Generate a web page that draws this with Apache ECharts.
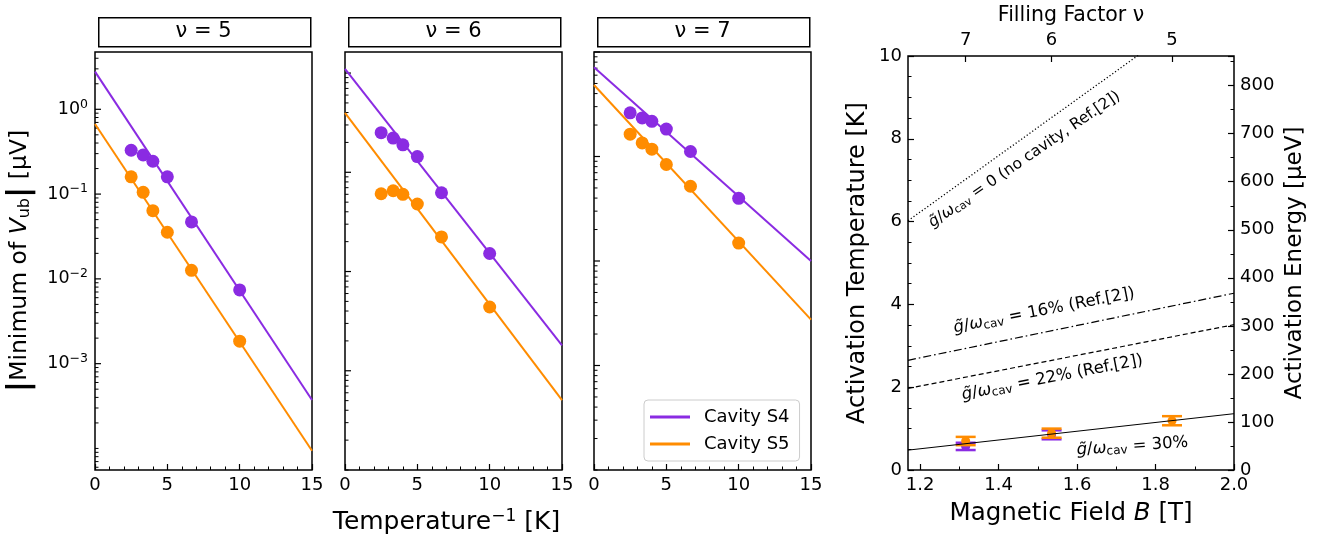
<!DOCTYPE html>
<html>
<head>
<meta charset="utf-8">
<title>Activation energy</title>
<script src="https://cdn.jsdelivr.net/npm/echarts@6/dist/echarts.min.js"></script>
<style>
  html, body { margin: 0; padding: 0; background: #fff; }
  #chart { width: 1336px; height: 542px; }
</style>
</head>
<body>
<div id="chart"></div>
<script>
// inverse temperature of the measurements [1/K]
var invTemp = [2.5, 3.33, 4, 5, 6.67, 10];
var panelTitles = ['ν = 5', 'ν = 6', 'ν = 7'];

// |minimum of V_ub| [µV]
var s4Nu5 = [0.329, 0.289, 0.244, 0.160, 0.0469, 0.0074];
var s5Nu5 = [0.160, 0.105, 0.0637, 0.0355, 0.0126, 0.00184];
var s4Nu6 = [0.251, 0.221, 0.189, 0.144, 0.0622, 0.0152];
var s5Nu6 = [0.0608, 0.0652, 0.060, 0.0479, 0.0223, 0.00439];
var s4Nu7 = [0.262, 0.234, 0.217, 0.183, 0.1116, 0.0398];
var s5Nu7 = [0.1636, 0.135, 0.1175, 0.0838, 0.0519, 0.01485];

// Arrhenius fits, value at 1/T = 0 and 1/T = 15
var fitInvTemp = [0, 15];
var fitS4Nu5 = [2.78, 3.73e-4];
var fitS5Nu5 = [0.671, 9.4e-5];
var fitS4Nu6 = [1.10, 0.0018];
var fitS5Nu6 = [0.397, 5.05e-4];
var fitS4Nu7 = [0.713, 0.00998];
var fitS5Nu7 = [0.483, 0.00275];

// y range of the log panels
var logMin = [5.57e-5, 1e-4, 1e-4];
var logMax = [4.74, 1.63, 1];

// right panel: activation temperature vs field
var fieldRange = [1.169, 2.0];
var fieldLabels = [1.2, 1.4, 1.6, 1.8, 2.0];
var fieldMinor = [1.3, 1.5, 1.7, 1.9];
var fillingFactors = [7, 6, 5];
var fillingField = [1.316, 1.535, 1.842];
var noCavityT = [6.02, 11.68];
var coupling16T = [2.65, 4.27];
var coupling22T = [1.97, 3.51];
var coupling30T = [0.48, 1.36];
var s4Field = [1.316, 1.535];
var s4Act = [0.57, 0.85];
var s4Err = [0.088, 0.108];
var s5Field = [1.316, 1.535, 1.842];
var s5Act = [0.70, 0.89, 1.19];
var s5Err = [0.10, 0.11, 0.11];
var kB = 86.17; // µeV per K

var noteTexts = ['0 (no cavity, Ref.[2])', '16% (Ref.[2])', '22% (Ref.[2])', '30%'];
var noteField = [1.466, 1.516, 1.537, 1.741];
var noteTemp = [7.50, 3.85, 2.23, 0.57];
var noteAngle = [34.5, 11, 11, 4];
var noteSize = [15.5, 16.5, 16.5, 16.5];

var FONT = 'DejaVu Sans';
var PURPLE = '#8a2be2';
var ORANGE = '#ff8c00';
var TICK_FS = 18;

var panelLeft = [95, 345, 594];
var panelWidth = 217;

var myChart = echarts.init(document.getElementById('chart'));

var s4Sets = [s4Nu5, s4Nu6, s4Nu7];
var s5Sets = [s5Nu5, s5Nu6, s5Nu7];
var fitS4 = [fitS4Nu5, fitS4Nu6, fitS4Nu7];
var fitS5 = [fitS5Nu5, fitS5Nu6, fitS5Nu7];

var grids = [], xAxes = [], yAxes = [], series = [], graphics = [];

function pairs(xs, ys) {
  return xs.map(function (x, k) { return [x, ys[k]]; });
}

// tick marks of a log axis: labelled decades long, the rest short
function logTicks(i) {
  var out = [];
  for (var e = -6; e <= 2; e++) {
    for (var m = 1; m <= 9; m++) {
      var v = m * Math.pow(10, e);
      if (v < logMin[i] * 0.999 || v > logMax[i] * 1.001) continue;
      var major = (m === 1 && e <= 0 && e >= -3) ? 1 : 0;
      out.push([0, v, major]);
    }
  }
  return out;
}

function supLabel(v) {
  var e = Math.log10(v);
  var r = Math.round(e);
  if (Math.abs(e - r) > 1e-6 || r > 0 || r < -3) return '';
  return '{b|10}{s|' + (r < 0 ? '\u2212' + (-r) : r) + '}';
}

for (var i = 0; i < 3; i++) {
  grids.push({ left: panelLeft[i], top: 52, width: panelWidth, height: 418,
    show: true, borderColor: '#000', borderWidth: 1.5, backgroundColor: 'transparent' });
  var xa = {
    gridIndex: i, type: 'value', min: 0, max: 15, interval: 5,
    axisLine: { show: false },
    axisTick: { inside: true, length: 6, lineStyle: { color: '#000', width: 1.2 } },
    minorTick: { show: true, splitNumber: 5, length: 3.5, lineStyle: { color: '#000', width: 1 } },
    splitLine: { show: false },
    axisLabel: { fontSize: TICK_FS, color: '#000', fontFamily: FONT, margin: 6 }
  };
  if (i === 1) {
    xa.name = '{t|Temperature}{s|\u22121}{t| [K]}';
    xa.nameLocation = 'middle';
    xa.nameGap = 38;
    xa.nameTextStyle = { padding: [0, 14, 0, 0], rich: {
      t: { fontSize: 25, fontFamily: FONT, color: '#000' },
      s: { fontSize: 17, fontFamily: FONT, color: '#000', padding: [0, 0, 12, 0] }
    } };
  }
  xAxes.push(xa);
  var ya = {
    gridIndex: i, type: 'log', logBase: 10, min: logMin[i], max: logMax[i],
    axisLine: { show: false }, axisTick: { show: false }, splitLine: { show: false },
    axisLabel: { show: false }
  };
  if (i === 0) {
    ya.axisLabel = {
      show: true, margin: 7, formatter: supLabel,
      rich: {
        b: { fontSize: 17.5, fontFamily: FONT, color: '#000' },
        s: { fontSize: 12.5, fontFamily: FONT, color: '#000', padding: [0, 0, 10, 0] }
      }
    };
    ya.name = '{bar||}{t|Minimum of }{i|V}{sub|ub}{bar||}{t| [\u00b5V]}';
    ya.nameLocation = 'middle';
    ya.nameGap = 60;
    ya.nameTextStyle = { rich: {
      t: { fontSize: 23.5, fontFamily: FONT, color: '#000' },
      i: { fontSize: 23.5, fontFamily: FONT, color: '#000', fontStyle: 'italic' },
      sub: { fontSize: 16, fontFamily: FONT, color: '#000', padding: [10, 0, 0, 0] },
      bar: { fontSize: 31, fontFamily: FONT, color: '#000', fontWeight: 'bold' }
    } };
  }
  yAxes.push(ya);

  series.push({ type: 'line', name: 'Cavity S4', xAxisIndex: i, yAxisIndex: i,
    data: pairs(fitInvTemp, fitS4[i]), symbol: 'none', silent: true,
    lineStyle: { color: PURPLE, width: 2 }, itemStyle: { color: PURPLE } });
  series.push({ type: 'line', name: 'Cavity S5', xAxisIndex: i, yAxisIndex: i,
    data: pairs(fitInvTemp, fitS5[i]), symbol: 'none', silent: true,
    lineStyle: { color: ORANGE, width: 2 }, itemStyle: { color: ORANGE } });
  series.push({ type: 'scatter', name: 'S4 data ' + i, xAxisIndex: i, yAxisIndex: i,
    data: pairs(invTemp, s4Sets[i]), symbolSize: 13, itemStyle: { color: PURPLE, opacity: 1 } });
  series.push({ type: 'scatter', name: 'S5 data ' + i, xAxisIndex: i, yAxisIndex: i,
    data: pairs(invTemp, s5Sets[i]), symbolSize: 13, itemStyle: { color: ORANGE, opacity: 1 } });
  series.push({ type: 'custom', name: 'yticks ' + i, xAxisIndex: i, yAxisIndex: i, silent: true,
    data: logTicks(i), encode: { x: 0, y: 1 }, clip: false,
    renderItem: function (params, api) {
      var p = api.coord([0, api.value(1)]);
      var len = api.value(2) ? 6 : 3.5;
      return { type: 'line', shape: { x1: p[0], y1: p[1], x2: p[0] + len, y2: p[1] },
        style: { stroke: '#000', lineWidth: api.value(2) ? 1.2 : 1 } };
    } });

  // panel title box
  graphics.push({ type: 'rect', left: panelLeft[i] + 3, top: 17,
    shape: { x: 0, y: 0, width: panelWidth - 5, height: 29 },
    style: { fill: '#fff', stroke: '#000', lineWidth: 1.5 } });
  graphics.push({ type: 'text', x: panelLeft[i] + panelWidth / 2, y: 32,
    style: { text: panelTitles[i], fontSize: 21, fontFamily: FONT, fill: '#000',
      align: 'center', verticalAlign: 'middle' } });
}

// right panel
grids.push({ left: 908, top: 52, width: 326, height: 418,
  show: true, borderColor: '#000', borderWidth: 1.5, backgroundColor: 'transparent' });
xAxes.push({
  gridIndex: 3, type: 'value', position: 'bottom', min: fieldRange[0], max: fieldRange[1],
  axisLine: { show: false }, splitLine: { show: false },
  axisTick: { inside: true, length: 6, customValues: fieldLabels, lineStyle: { color: '#000', width: 1.2 } },
  axisLabel: { fontSize: TICK_FS, color: '#000', fontFamily: FONT, margin: 6, customValues: fieldLabels,
    formatter: function (v) { return v.toFixed(1); } },
  name: '{t|Magnetic Field }{i|B}{t| [T]}', nameLocation: 'middle', nameGap: 31,
  nameTextStyle: { rich: {
    t: { fontSize: 24.5, fontFamily: FONT, color: '#000' },
    i: { fontSize: 24.5, fontFamily: FONT, color: '#000', fontStyle: 'italic' }
  } }
});
xAxes.push({
  gridIndex: 3, type: 'value', position: 'bottom', min: fieldRange[0], max: fieldRange[1],
  axisLine: { show: false }, splitLine: { show: false }, axisLabel: { show: false },
  axisTick: { inside: true, length: 3.5, customValues: fieldMinor, lineStyle: { color: '#000', width: 1 } }
});
xAxes.push({
  gridIndex: 3, type: 'value', position: 'top', min: fieldRange[0], max: fieldRange[1],
  axisLine: { show: false }, splitLine: { show: false },
  axisTick: { inside: true, length: 6, customValues: fillingField, lineStyle: { color: '#000', width: 1.2 } },
  axisLabel: { fontSize: TICK_FS, color: '#000', fontFamily: FONT, margin: 7, customValues: fillingField,
    formatter: function (v) {
      var k = fillingField.indexOf(v);
      return k < 0 ? '' : String(fillingFactors[k]);
    } },
  name: 'Filling Factor \u03bd', nameLocation: 'middle', nameGap: 30,
  nameTextStyle: { fontSize: 20.5, fontFamily: FONT, color: '#000' }
});
yAxes.push({
  gridIndex: 3, type: 'value', position: 'left', min: 0, max: 10, interval: 2,
  axisLine: { show: false }, splitLine: { show: false },
  axisTick: { inside: true, length: 6, lineStyle: { color: '#000', width: 1.2 } },
  minorTick: { show: true, splitNumber: 4, length: 3.5, lineStyle: { color: '#000', width: 1 } },
  axisLabel: { fontSize: TICK_FS, color: '#000', fontFamily: FONT, margin: 6 },
  name: 'Activation Temperature [K]', nameLocation: 'middle', nameGap: 38,
  nameTextStyle: { fontSize: 24, fontFamily: FONT, color: '#000' }
});
yAxes.push({
  gridIndex: 3, type: 'value', position: 'right', min: 0, max: 10 * kB, interval: 100,
  axisLine: { show: false }, splitLine: { show: false },
  axisTick: { inside: true, length: 6, lineStyle: { color: '#000', width: 1.2 } },
  minorTick: { show: true, splitNumber: 2, length: 3.5, lineStyle: { color: '#000', width: 1 } },
  axisLabel: { fontSize: TICK_FS, color: '#000', fontFamily: FONT, margin: 6, showMaxLabel: false },
  name: 'Activation Energy [\u00b5eV]', nameLocation: 'middle', nameGap: 50,
  nameTextStyle: { fontSize: 23, fontFamily: FONT, color: '#000' }
});

function refLine(name, temps, type, width) {
  return { type: 'line', name: name, xAxisIndex: 3, yAxisIndex: 3, silent: true,
    data: pairs(fieldRange, temps), symbol: 'none',
    lineStyle: { color: '#000', width: width, type: type } };
}
series.push(refLine('no cavity', noCavityT, [1.2, 2.2], 1.3));
series.push(refLine('16%', coupling16T, [8, 3, 1.6, 3], 1.2));
series.push(refLine('22%', coupling22T, [5, 3], 1.2));
series.push(refLine('30%', coupling30T, 'solid', 1));

function errorBars(color) {
  return function (params, api) {
    var x = api.value(0), y = api.value(1), e = api.value(2);
    var c = api.coord([x, y]);
    var lo = api.coord([x, y - e]);
    var hi = api.coord([x, y + e]);
    var hw = 10;
    return { type: 'group', children: [
      { type: 'line', shape: { x1: c[0], y1: hi[1], x2: c[0], y2: lo[1] }, style: { stroke: color, lineWidth: 2 } },
      { type: 'line', shape: { x1: c[0] - hw, y1: hi[1], x2: c[0] + hw, y2: hi[1] }, style: { stroke: color, lineWidth: 2.5 } },
      { type: 'line', shape: { x1: c[0] - hw, y1: lo[1], x2: c[0] + hw, y2: lo[1] }, style: { stroke: color, lineWidth: 2.5 } },
      { type: 'circle', shape: { cx: c[0], cy: c[1], r: 4.5 }, style: { fill: color } }
    ] };
  };
}
series.push({ type: 'custom', name: 'S4 activation', xAxisIndex: 3, yAxisIndex: 3, silent: true,
  data: s4Field.map(function (b, k) { return [b, s4Act[k], s4Err[k]]; }),
  encode: { x: 0, y: 1 }, renderItem: errorBars(PURPLE) });
series.push({ type: 'custom', name: 'S5 activation', xAxisIndex: 3, yAxisIndex: 3, silent: true,
  data: s5Field.map(function (b, k) { return [b, s5Act[k], s5Err[k]]; }),
  encode: { x: 0, y: 1 }, renderItem: errorBars(ORANGE) });

// rotated annotations along the reference lines
series.push({ type: 'custom', name: 'notes', xAxisIndex: 3, yAxisIndex: 3, silent: true, clip: false,
  data: noteField.map(function (b, k) { return [b, noteTemp[k]]; }),
  encode: { x: 0, y: 1 },
  renderItem: function (params, api) {
    var k = params.dataIndex;
    var p = api.coord([api.value(0), api.value(1)]);
    var fs = noteSize[k];
    return { type: 'text', x: p[0], y: p[1], rotation: noteAngle[k] * Math.PI / 180,
      style: {
        text: '{i|g\u0303}{t|/}{i|\u03c9}{sub|cav}{t| = ' + noteTexts[k] + '}',
        align: 'center', verticalAlign: 'middle',
        rich: {
          t: { fontSize: fs, fontFamily: FONT, fill: '#000' },
          i: { fontSize: fs, fontFamily: FONT, fill: '#000', fontStyle: 'italic' },
          sub: { fontSize: fs - 4.5, fontFamily: FONT, fill: '#000', padding: [7, 0, 0, 0] }
        }
      } };
  } });

myChart.setOption({
  animation: false,
  backgroundColor: '#fff',
  textStyle: { fontFamily: FONT },
  legend: {
    data: ['Cavity S4', 'Cavity S5'], orient: 'vertical', left: 644, top: 400,
    icon: 'rect', itemWidth: 40, itemHeight: 3, itemGap: 9, padding: [8, 10, 8, 6],
    borderColor: '#ccc', borderWidth: 1, borderRadius: 4,
    backgroundColor: 'rgba(255,255,255,0.8)',
    textStyle: { fontSize: 18, color: '#000', fontFamily: FONT, padding: [0, 0, 0, 9] }
  },
  grid: grids,
  xAxis: xAxes,
  yAxis: yAxes,
  series: series,
  graphic: graphics
});
</script>
</body>
</html>
